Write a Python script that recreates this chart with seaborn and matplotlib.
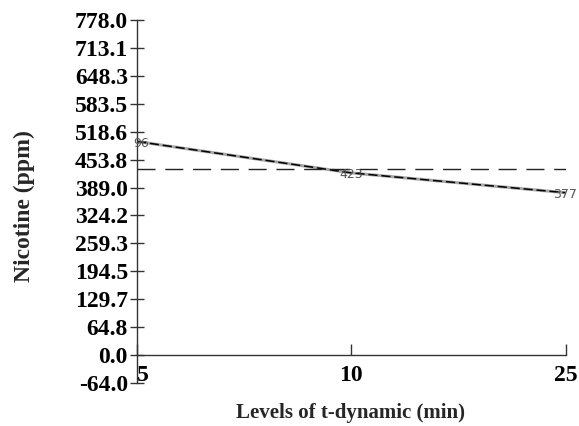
import matplotlib
matplotlib.use("Agg")
import matplotlib.pyplot as plt
import seaborn as sns
import pandas as pd

# ---- data ----
levels = ["5", "10", "25"]
nicotine = [496, 423, 377]
point_labels = ["96", "423", "377"]   # first label is cut to "96" in the reference
grand_mean = 432
ytick_values = [-64.0, 0.0, 64.8, 129.7, 194.5, 259.3, 324.2, 389.0,
                453.8, 518.6, 583.5, 648.3, 713.1, 778.0]
ytick_labels = ["-64.0", "0.0", "64.8", "129.7", "194.5", "259.3", "324.2",
                "389.0", "453.8", "518.6", "583.5", "648.3", "713.1", "778.0"]
x_label = "Levels of t-dynamic (min)"
y_label = "Nicotine (ppm)"

sns.set_theme(style="white")
plt.rcParams["font.family"] = ["Liberation Serif", "DejaVu Serif"]

W, H = 579, 426
fig = plt.figure(figsize=(W / 100, H / 100), dpi=100)
fig.patch.set_facecolor("white")
ax = fig.add_axes([137 / W, 43 / H, (565.5 - 137) / W, 363 / H])
ax.set_facecolor("white")

df = pd.DataFrame({"pos": list(range(len(levels))), "level": levels, "nicotine": nicotine})

sns.lineplot(data=df, x="pos", y="nicotine", ax=ax, color="#a8a8a8", lw=2.2)
sns.lineplot(data=df, x="pos", y="nicotine", ax=ax, color="black", lw=1.1,
             linestyle=(0, (6, 2.5)))
ax.axhline(grand_mean, color="#222222", lw=1.0, linestyle=(0, (13, 7)))

ax.set_xlim(0, len(levels) - 1)
ax.set_ylim(-64.8, 778)

# point labels
for i, (v, lab) in enumerate(zip(nicotine, point_labels)):
    if i == 0:
        dx, ha = -3, "left"
    else:
        dx, ha = 0, "center"
    ax.annotate(lab, (i, v), xytext=(dx, -1.5), textcoords="offset points",
                ha=ha, va="center", fontsize=9, color="#555555",
                family="DejaVu Sans", annotation_clip=False)

# spines
for s in ["top", "right"]:
    ax.spines[s].set_visible(False)
ax.spines["bottom"].set_position(("data", 0))
for s in ["left", "bottom"]:
    ax.spines[s].set_color("#333333")
    ax.spines[s].set_linewidth(1.0)

ax.set_xticks(range(len(levels)))
ax.set_xticklabels(levels)
ax.set_yticks(ytick_values)
ax.set_yticklabels(ytick_labels)

ax.tick_params(axis="x", bottom=True, direction="in", length=8, width=1,
               color="#333333", pad=7, labelsize=17, labelcolor="black")
ax.tick_params(axis="y", left=True, direction="inout", length=10, width=1,
               color="#333333", pad=1.5, labelsize=17, labelcolor="black")
for lab in ax.get_xticklabels() + ax.get_yticklabels():
    lab.set_fontweight("bold")
ax.get_xticklabels()[0].set_ha("left")

ax.set_xlabel("")
ax.set_ylabel("")
fig.text(350 / W, 1 - 413 / H, x_label, ha="center", va="center",
         fontsize=15, fontweight="bold")
fig.text(24 / W, 1 - 206 / H, y_label, ha="center", va="center",
         fontsize=17, fontweight="bold", rotation=90)

fig.savefig("out.png", dpi=100, facecolor="white")
